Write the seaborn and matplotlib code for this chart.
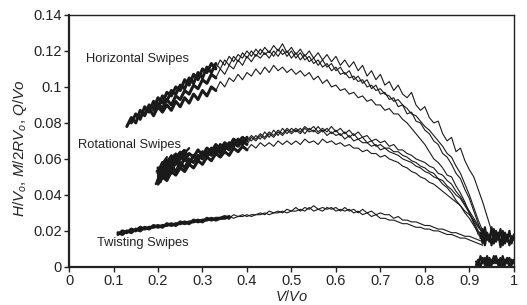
import numpy as np
import pandas as pd
import seaborn as sns
import matplotlib.pyplot as plt
from matplotlib.ticker import FormatStrFormatter

nan = np.nan

# x grids (V/Vo) for each group of swipes
xh = np.round(np.arange(0.13, 0.965, 0.01), 2)   # horizontal
xr = np.round(np.arange(0.20, 0.955, 0.01), 2)   # rotational
xt = np.round(np.arange(0.11, 0.935, 0.01), 2)   # twisting

# Horizontal swipes (H/Vo)
h1 = [0.078, 0.083, 0.080, 0.087, 0.084, 0.090, 0.088, 0.094, 0.091, 0.097,
      0.095, 0.100, 0.098, 0.104, 0.101, 0.107, 0.104, 0.110, 0.108, 0.113,
      0.110, 0.115, 0.112, 0.117, 0.114, 0.118, 0.116, 0.120, 0.117, 0.121,
      0.118, 0.122, 0.119, 0.123, 0.120, 0.124, 0.119, 0.122, 0.118, 0.121,
      0.117, 0.120, 0.116, 0.119, 0.115, 0.118, 0.114, 0.117, 0.112, 0.115,
      0.111, 0.114, 0.109, 0.112, 0.106, 0.109, 0.104, 0.107, 0.101, 0.103,
      0.098, 0.101, 0.096, 0.094, 0.097, 0.090, 0.087, 0.089, 0.083, 0.080,
      0.081, 0.074, 0.070, 0.072, 0.064, 0.066, 0.059, 0.054, 0.050, 0.043,
      0.036, 0.028, 0.020, 0.015]
h2 = [nan, 0.080, 0.085, 0.082, 0.089, 0.086, 0.092, 0.089, 0.095, 0.092,
      0.098, 0.096, 0.101, 0.099, 0.105, 0.102, 0.108, 0.105, 0.111, 0.108,
      0.113, 0.110, 0.115, 0.112, 0.117, 0.114, 0.119, 0.116, 0.120, 0.117,
      0.121, 0.118, 0.120, 0.117, 0.121, 0.118, 0.120, 0.116, 0.119, 0.115,
      0.118, 0.114, 0.116, 0.112, 0.115, 0.111, 0.113, 0.109, 0.111, 0.107,
      0.109, 0.104, 0.106, 0.102, 0.104, 0.099, 0.101, 0.096, 0.097, 0.093,
      0.094, 0.089, 0.090, 0.085, 0.086, 0.081, 0.080, 0.076, 0.074, 0.070,
      0.068, 0.063, 0.061, 0.057, 0.052, 0.049, 0.043, 0.038, 0.031, 0.024,
      0.018, 0.015, nan, nan]
h3 = [nan, nan, nan, nan, 0.085, 0.088, 0.084, 0.089, 0.086, 0.090,
      0.087, 0.092, 0.089, 0.094, 0.091, 0.096, 0.093, 0.098, 0.095, 0.100,
      0.098, 0.103, 0.100, 0.105, 0.103, 0.107, 0.104, 0.108, 0.106, 0.110,
      0.107, 0.111, 0.108, 0.112, 0.109, 0.111, 0.108, 0.110, 0.107, 0.109,
      0.106, 0.108, 0.104, 0.106, 0.102, 0.104, 0.100, 0.101, 0.098, 0.099,
      0.096, 0.097, 0.094, 0.095, 0.092, 0.093, 0.090, 0.090, 0.087, 0.088,
      0.085, 0.085, 0.082, 0.080, 0.077, 0.074, 0.071, 0.068, 0.064, 0.060,
      0.058, 0.055, 0.051, 0.050, 0.045, 0.041, 0.036, 0.030, 0.024, 0.018,
      0.015, nan, nan, nan]
h4 = [nan, nan, nan, nan, nan, nan, 0.087, 0.091, 0.088, 0.093,
      0.090, 0.095, 0.093, 0.098, 0.096, 0.101, 0.099, 0.104, 0.102, 0.107,
      0.105, 0.110, 0.107, 0.112, 0.110, 0.115, 0.112, 0.117, 0.114, 0.118,
      0.116, 0.119, 0.116, 0.120, 0.117, 0.121, 0.117, 0.120, 0.116, 0.119,
      0.115, 0.117, 0.113, 0.115, 0.111, 0.113, 0.109, 0.111, 0.107, 0.108,
      0.105, 0.106, 0.103, 0.104, 0.100, 0.101, 0.098, 0.099, 0.096, 0.095,
      0.092, 0.093, 0.090, 0.088, 0.085, 0.084, 0.081, 0.078, 0.076, 0.073,
      0.070, 0.067, 0.063, 0.061, 0.056, 0.052, 0.046, 0.040, 0.033, 0.026,
      0.020, 0.016, nan, nan]

# Rotational swipes (M/2RVo)
r1 = [0.052, 0.058, 0.054, 0.060, 0.057, 0.062, 0.059, 0.063, 0.061, 0.065,
      0.062, 0.066, 0.064, 0.068, 0.065, 0.069, 0.067, 0.071, 0.069, 0.072,
      0.070, 0.073, 0.071, 0.074, 0.072, 0.075, 0.073, 0.076, 0.074, 0.077,
      0.075, 0.077, 0.075, 0.078, 0.076, 0.078, 0.075, 0.077, 0.075, 0.078,
      0.075, 0.077, 0.074, 0.076, 0.073, 0.075, 0.072, 0.073, 0.070, 0.071,
      0.069, 0.070, 0.067, 0.068, 0.065, 0.065, 0.063, 0.062, 0.060, 0.059,
      0.058, 0.056, 0.055, 0.052, 0.051, 0.048, 0.046, 0.042, 0.039, 0.035,
      0.031, 0.027, 0.023, 0.019, 0.016, nan]
r2 = [0.048, 0.053, 0.050, 0.056, 0.053, 0.058, 0.055, 0.060, 0.058, 0.062,
      0.060, 0.064, 0.062, 0.066, 0.063, 0.067, 0.065, 0.069, 0.067, 0.070,
      0.068, 0.072, 0.070, 0.073, 0.071, 0.074, 0.072, 0.075, 0.073, 0.076,
      0.074, 0.076, 0.074, 0.077, 0.075, 0.076, 0.074, 0.076, 0.073, 0.075,
      0.073, 0.074, 0.071, 0.073, 0.070, 0.071, 0.069, 0.069, 0.067, 0.068,
      0.065, 0.066, 0.064, 0.063, 0.062, 0.060, 0.059, 0.058, 0.056, 0.055,
      0.053, 0.052, 0.050, 0.049, 0.046, 0.044, 0.041, 0.037, 0.034, 0.030,
      0.027, 0.023, 0.019, 0.016, nan, nan]
r3 = [0.046, 0.050, 0.048, 0.053, 0.051, 0.055, 0.053, 0.057, 0.055, 0.059,
      0.057, 0.061, 0.059, 0.063, 0.061, 0.064, 0.062, 0.066, 0.064, 0.067,
      0.065, 0.068, 0.066, 0.069, 0.067, 0.069, 0.067, 0.070, 0.068, 0.070,
      0.068, 0.070, 0.068, 0.071, 0.069, 0.070, 0.068, 0.071, 0.069, 0.070,
      0.068, 0.069, 0.067, 0.068, 0.066, 0.066, 0.064, 0.065, 0.063, 0.063,
      0.061, 0.062, 0.060, 0.059, 0.058, 0.056, 0.055, 0.053, 0.052, 0.050,
      0.049, 0.047, 0.046, 0.044, 0.042, 0.040, 0.038, 0.036, 0.034, 0.031,
      0.029, 0.026, 0.022, 0.019, 0.016, nan]
r4 = [0.055, 0.050, 0.057, 0.052, 0.059, 0.055, 0.061, 0.057, 0.062, 0.059,
      0.064, 0.061, 0.066, 0.063, 0.068, 0.065, 0.069, 0.067, 0.071, 0.068,
      0.072, 0.070, 0.073, 0.071, 0.075, 0.072, 0.076, 0.073, 0.077, 0.074,
      0.077, 0.075, 0.077, 0.074, 0.077, 0.075, 0.078, 0.075, 0.077, 0.074,
      0.076, 0.073, 0.075, 0.072, 0.074, 0.071, 0.072, 0.069, 0.070, 0.067,
      0.068, 0.066, 0.066, 0.064, 0.064, 0.062, 0.061, 0.059, 0.058, 0.056,
      0.055, 0.053, 0.052, 0.049, 0.048, 0.045, 0.043, 0.040, 0.038, 0.034,
      0.030, 0.025, 0.020, 0.017, nan, nan]

# Twisting swipes (Q/Vo)
t1 = [0.018, 0.020, 0.019, 0.021, 0.020, 0.022, 0.021, 0.022, 0.022, 0.023,
      0.022, 0.024, 0.023, 0.024, 0.024, 0.025, 0.024, 0.026, 0.025, 0.026,
      0.026, 0.027, 0.026, 0.027, 0.027, 0.028, 0.027, 0.028, 0.028, 0.029,
      0.028, 0.029, 0.029, 0.030, 0.029, 0.030, 0.030, 0.031, 0.030, 0.031,
      0.031, 0.032, 0.031, 0.033, 0.031, 0.032, 0.031, 0.033, 0.032, 0.033,
      0.031, 0.033, 0.031, 0.032, 0.030, 0.032, 0.030, 0.031, 0.029, 0.030,
      0.029, 0.029, 0.027, 0.028, 0.026, 0.026, 0.025, 0.025, 0.024, 0.023,
      0.023, 0.022, 0.021, 0.021, 0.020, 0.019, 0.019, 0.018, 0.017, 0.017,
      0.016, 0.015, 0.014]
t2 = [0.019, 0.018, 0.020, 0.019, 0.021, 0.020, 0.022, 0.021, 0.023, 0.022,
      0.023, 0.023, 0.024, 0.023, 0.025, 0.024, 0.025, 0.025, 0.026, 0.025,
      0.027, 0.026, 0.027, 0.027, 0.028, 0.027, 0.029, 0.028, 0.029, 0.028,
      0.029, 0.029, 0.030, 0.029, 0.031, 0.030, 0.031, 0.030, 0.032, 0.031,
      0.033, 0.031, 0.033, 0.032, 0.034, 0.032, 0.033, 0.032, 0.033, 0.031,
      0.032, 0.031, 0.032, 0.030, 0.031, 0.029, 0.030, 0.028, 0.029, 0.027,
      0.027, 0.026, 0.026, 0.025, 0.024, 0.024, 0.023, 0.022, 0.022, 0.021,
      0.021, 0.020, 0.020, 0.019, 0.018, 0.018, 0.017, 0.016, 0.016, 0.015,
      0.014, 0.013, 0.012]

# dense scribbles: rotational start blob and noisy tails near V/Vo = 1
blob_x = [0.195, 0.215, 0.200, 0.220, 0.197, 0.225, 0.205, 0.230, 0.200, 0.235,
          0.210, 0.240, 0.205, 0.245, 0.215, 0.250, 0.220, 0.255, 0.210, 0.260,
          0.225, 0.265, 0.230, 0.270]
blob_y = [0.046, 0.058, 0.050, 0.061, 0.053, 0.059, 0.047, 0.062, 0.051, 0.060,
          0.049, 0.063, 0.055, 0.061, 0.050, 0.064, 0.056, 0.062, 0.052, 0.065,
          0.057, 0.063, 0.055, 0.066]
tail_x = [0.925, 0.930, 0.935, 0.940, 0.945, 0.950, 0.955, 0.960, 0.965, 0.970,
          0.975, 0.980, 0.985, 0.990, 0.995, 1.000]
tail_y1 = [0.016, 0.021, 0.012, 0.019, 0.014, 0.022, 0.013, 0.020, 0.015, 0.021,
           0.012, 0.019, 0.014, 0.020, 0.013, 0.018]
tail_y2 = [0.019, 0.013, 0.022, 0.015, 0.018, 0.012, 0.021, 0.014, 0.019, 0.011,
           0.020, 0.013, 0.018, 0.012, 0.017, 0.015]
low_x = [0.915, 0.920, 0.925, 0.930, 0.935, 0.940, 0.945, 0.950, 0.955, 0.960,
         0.965, 0.970, 0.975, 0.980, 0.985, 0.990, 0.995, 1.000]
low_y1 = [0.001, 0.004, 0.000, 0.005, 0.001, 0.006, 0.000, 0.004, 0.002, 0.006,
          0.001, 0.005, 0.000, 0.004, 0.002, 0.005, 0.001, 0.004]
low_y2 = [0.003, 0.000, 0.006, 0.002, 0.005, 0.000, 0.005, 0.001, 0.006, 0.002,
          0.004, 0.000, 0.006, 0.001, 0.005, 0.000, 0.004, 0.002]

curves = pd.concat([
    pd.DataFrame({'x': xh, 'y': h1, 'id': 'h1'}),
    pd.DataFrame({'x': xh, 'y': h2, 'id': 'h2'}),
    pd.DataFrame({'x': xh, 'y': h3, 'id': 'h3'}),
    pd.DataFrame({'x': xh, 'y': h4, 'id': 'h4'}),
    pd.DataFrame({'x': xr, 'y': r1, 'id': 'r1'}),
    pd.DataFrame({'x': xr, 'y': r2, 'id': 'r2'}),
    pd.DataFrame({'x': xr, 'y': r3, 'id': 'r3'}),
    pd.DataFrame({'x': xr, 'y': r4, 'id': 'r4'}),
    pd.DataFrame({'x': xt, 'y': t1, 'id': 't1'}),
    pd.DataFrame({'x': xt, 'y': t2, 'id': 't2'}),
]).dropna()

scribbles = pd.concat([
    pd.DataFrame({'x': blob_x, 'y': blob_y, 'id': 'blob'}),
    pd.DataFrame({'x': tail_x, 'y': tail_y1, 'id': 'tail1'}),
    pd.DataFrame({'x': tail_x, 'y': tail_y2, 'id': 'tail2'}),
    pd.DataFrame({'x': low_x, 'y': low_y1, 'id': 'low1'}),
    pd.DataFrame({'x': low_x, 'y': low_y2, 'id': 'low2'}),
])

sns.set_style('ticks')
plt.rcParams['font.family'] = ['Liberation Sans', 'DejaVu Sans']
plt.rcParams['mathtext.fontset'] = 'custom'
plt.rcParams['mathtext.it'] = 'Liberation Sans:italic'
plt.rcParams['mathtext.rm'] = 'Liberation Sans'

fig = plt.figure(figsize=(5.27, 3.05), dpi=100)
ax = fig.add_axes([0.131, 0.125, 0.844, 0.826])

pal = {k: '#1a1a1a' for k in curves['id'].unique()}
sns.lineplot(data=curves, x='x', y='y', hue='id', units='id', estimator=None,
             sort=False, palette=pal, lw=0.8, legend=False, ax=ax)

# thick noisy start of each band
dense = curves[((curves['id'].str[0] == 'h') & (curves['x'] <= 0.33)) |
               ((curves['id'].str[0] == 'r') & (curves['x'] <= 0.40)) |
               ((curves['id'].str[0] == 't') & (curves['x'] <= 0.36))]
sns.lineplot(data=dense, x='x', y='y', hue='id', units='id', estimator=None,
             sort=False, palette=pal, lw=2.2, legend=False, ax=ax)

spal = {k: '#1a1a1a' for k in scribbles['id'].unique()}
sns.lineplot(data=scribbles, x='x', y='y', hue='id', units='id', estimator=None,
             sort=False, palette=spal, lw=1.6, legend=False, ax=ax)

ax.set_xlim(0, 1)
ax.set_ylim(0, 0.14)
ax.set_xticks(np.round(np.arange(0, 1.01, 0.1), 1))
ax.set_yticks(np.round(np.arange(0, 0.141, 0.02), 2))
ax.xaxis.set_major_formatter(FormatStrFormatter('%g'))
ax.yaxis.set_major_formatter(FormatStrFormatter('%g'))
ax.tick_params(direction='out', length=3.5, width=1, labelsize=10.5, colors='#222222', pad=1.5)
for s in ['left', 'bottom']:
    ax.spines[s].set_linewidth(1.6)
for s in ['top', 'right']:
    ax.spines[s].set_linewidth(1.0)
for s in ax.spines.values():
    s.set_color('#222222')

ax.set_xlabel('$V/Vo$', fontsize=10.5)
ax.set_ylabel('$H/V_o$, $M/2RV_o$, $Q/Vo$', fontsize=11)
ax.xaxis.set_label_coords(0.5, -0.088)
ax.yaxis.set_label_coords(-0.11, 0.472)
ax.xaxis.label.set_va('top')
ax.yaxis.label.set_va('center')

ax.text(0.038, 0.1155, 'Horizontal Swipes', fontsize=9.3, va='center', color='#222222')
ax.text(0.02, 0.068, 'Rotational Swipes', fontsize=9.3, va='center', color='#222222')
ax.text(0.063, 0.0135, 'Twisting Swipes', fontsize=9.3, va='center', color='#222222')

fig.savefig('out.png', dpi=100)
